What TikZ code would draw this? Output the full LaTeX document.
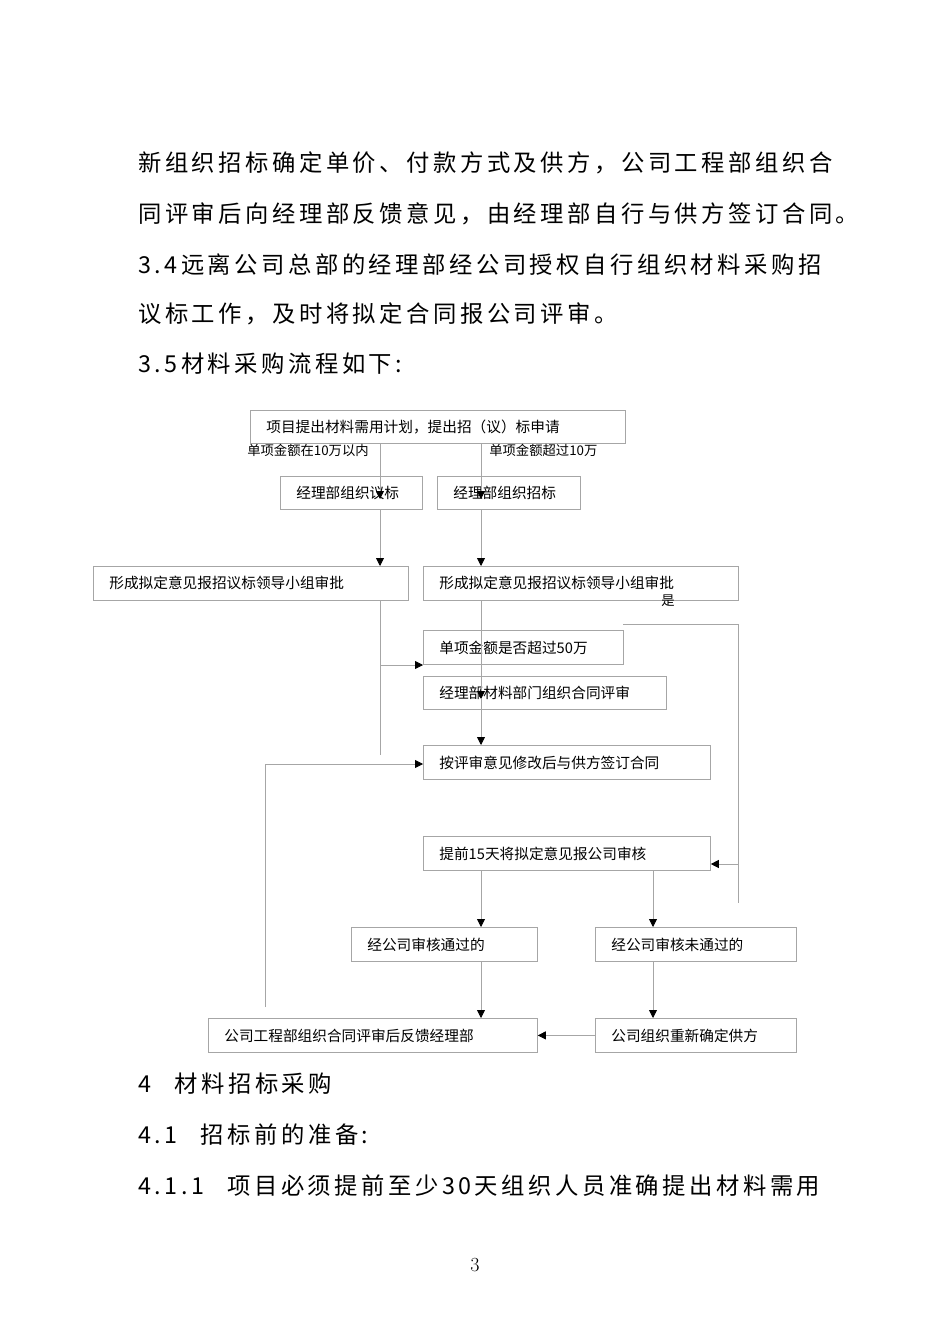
\documentclass[tikz,border=0pt]{standalone}
\usepackage{fontspec}
\newfontfamily\cjk{Noto Sans CJK SC}
\newfontfamily\cjkb[LetterSpace=15]{Noto Sans CJK SC}
\usetikzlibrary{arrows.meta}
\begin{document}
\begin{tikzpicture}[x=0.75pt,y=-0.75pt,
  bx/.style={draw=gray!70,line width=0.6pt,inner sep=0pt,font=\cjk\fontsize{11}{13}\selectfont},
  ln/.style={draw=gray!70,line width=0.6pt},
  ar/.style={ln,-{Triangle[length=6pt,width=6pt,black]}},
  body/.style={anchor=west,inner sep=0pt,font=\cjkb\fontsize{17.5}{20}\selectfont},
  lab/.style={inner sep=0pt,font=\cjk\fontsize{10}{12}\selectfont}]
\useasboundingbox[fill=white] (0,0) rectangle (950,1344);
\node[body] (t1) at (138,163) {新组织招标确定单价、付款方式及供方，公司工程部组织合};
\node[body] (t2) at (138,214) {同评审后向经理部反馈意见，由经理部自行与供方签订合同。};
\node[body] (t3) at (138,265) {3.4远离公司总部的经理部经公司授权自行组织材料采购招};
\node[body] (t4) at (138,314) {议标工作，及时将拟定合同报公司评审。};
\node[body] (t5) at (138,364) {3.5材料采购流程如下:};
\node[body] (t6) at (138,1084) {4\quad 材料招标采购};
\node[body] (t7) at (138,1135) {4.1\quad 招标前的准备:};
\node[body] (t8) at (138,1186) {4.1.1\quad 项目必须提前至少30天组织人员准确提出材料需用};
\node[inner sep=0pt,font=\fontsize{15}{17}\selectfont] (pg) at (475,1265) {3};
% boxes
\newcommand\bxx[6]{\node[bx,minimum width=#4*0.75pt-#2*0.75pt,minimum height=#5*0.75pt-#3*0.75pt,anchor=north west,text width=#4*0.75pt-#2*0.75pt-24pt,align=left] (#1) at (#2,#3) {\hspace*{0pt}#6};}
\bxx{top}{250}{410}{625}{443}{项目提出材料需用计划，提出招（议）标申请}
\bxx{A}{280}{476}{422}{509}{经理部组织议标}
\bxx{B}{437}{476}{580}{509}{经理部组织招标}
\bxx{C}{93}{566}{408}{600}{形成拟定意见报招议标领导小组审批}
\bxx{D}{423}{566}{738}{600}{形成拟定意见报招议标领导小组审批}
\bxx{E}{423}{630}{623}{664}{单项金额是否超过50万}
\bxx{F}{423}{676}{666}{709}{经理部材料部门组织合同评审}
\bxx{G}{423}{745}{710}{779}{按评审意见修改后与供方签订合同}
\bxx{H}{423}{836}{710}{870}{提前15天将拟定意见报公司审核}
\bxx{I}{351}{927}{537}{961}{经公司审核通过的}
\bxx{J}{595}{927}{796}{961}{经公司审核未通过的}
\bxx{K}{208}{1018}{537}{1052}{公司工程部组织合同评审后反馈经理部}
\bxx{L}{595}{1018}{796}{1052}{公司组织重新确定供方}
\node[lab,anchor=east] (l1) at (369,450) {单项金额在10万以内};
\node[lab,anchor=west] (l2) at (489,450) {单项金额超过10万};
\node[lab] (yes) at (668,601) {是};
% connectors
\coordinate (a0) at (380,443); \coordinate (a1) at (380,499);
\draw[ar] (a0) -- (a1);
\coordinate (b0) at (481,443); \coordinate (b1) at (481,499);
\draw[ar] (b0) -- (b1);
\draw[ar] (A.south -| a0) -- (C.north -| a0);
\draw[ar] (B.south -| b0) -- (D.north -| b0);
\coordinate (c1) at (380,755); \coordinate (c2) at (380,665);
\draw[ln] (C.south -| a0) -- (c1);
\draw[ar] (c2) -- (c2 -| E.west);
\coordinate (f1) at (481,699);
\draw[ar] (D.south -| b0) -- (f1);
\draw[ar] (f1) -- (G.north -| b0);
\coordinate (r0) at (623,624); \coordinate (r1) at (738,624); \coordinate (r2) at (738,903); \coordinate (r3) at (738,864);
\draw[ln] (r0) -- (r1) -- (r2);
\draw[ar] (r3) -- (r3 -| H.east);
\draw[ar] (H.south -| b0) -- (I.north -| b0);
\coordinate (j0) at (653,870);
\draw[ar] (j0) -- (J.north -| j0);
\draw[ar] (I.south -| b0) -- (K.north -| b0);
\draw[ar] (J.south -| j0) -- (L.north -| j0);
\draw[ar] (L.west) -- (K.east);
\coordinate (k0) at (265,1007); \coordinate (k1) at (265,764);
\draw[ar] (k0) -- (k1) -- (k1 -| G.west);
\end{tikzpicture}
\end{document}
